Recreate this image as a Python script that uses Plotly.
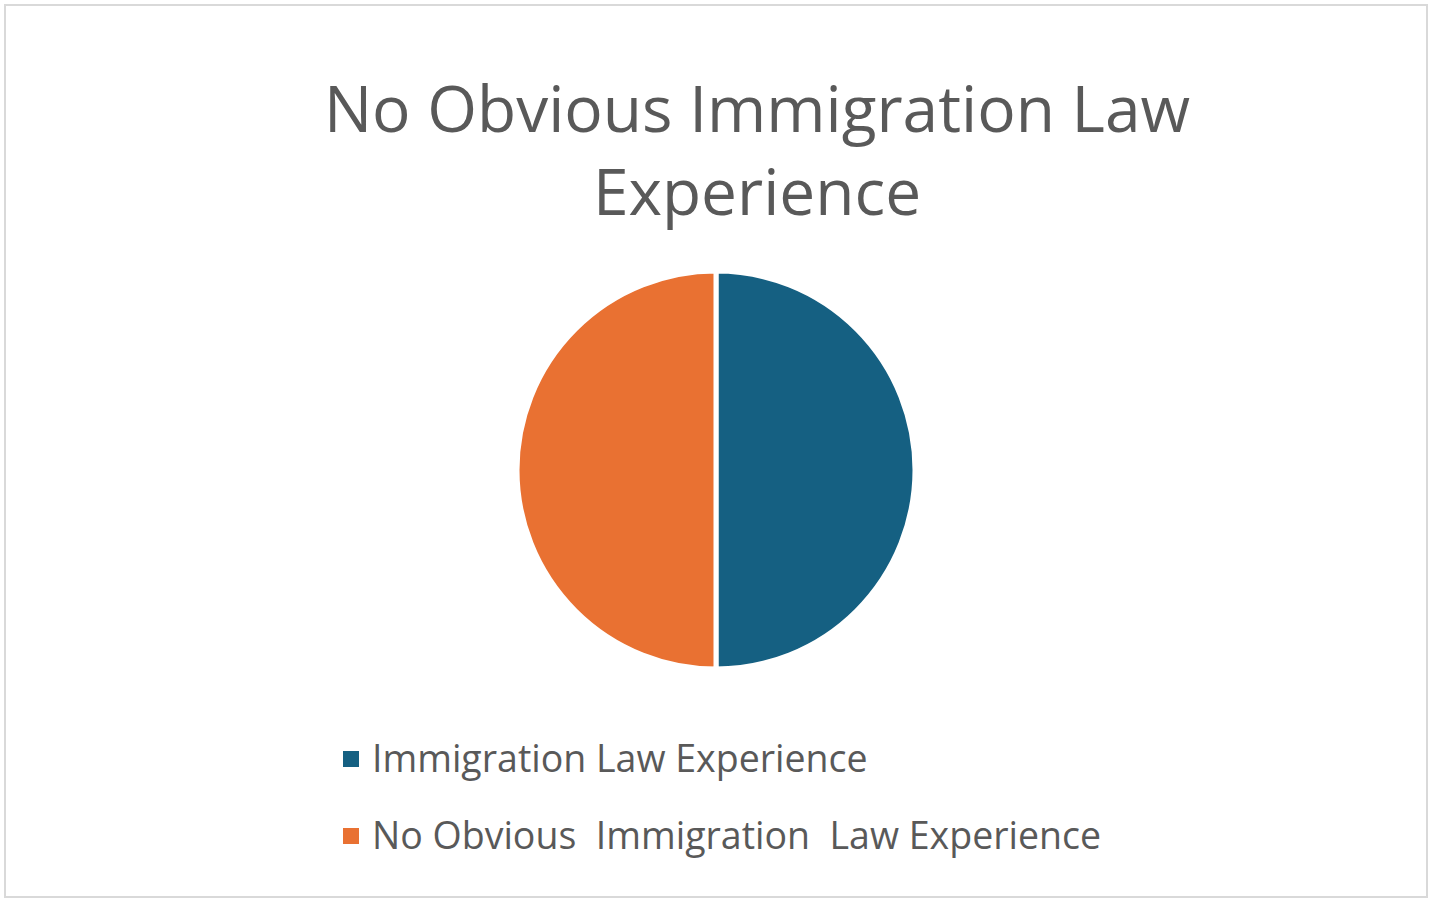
import plotly.graph_objects as go

categories = ["Immigration Law Experience", "No Obvious  Immigration  Law Experience"]
values = [50, 50]
colors = ["#156082", "#E97132"]
title_text = "No Obvious Immigration Law<br>Experience"

W, H = 1430, 902
FONT = "Open Sans"
TEXT = "#595959"

fig = go.Figure(go.Pie(
    labels=categories,
    values=values,
    sort=False,
    direction="clockwise",
    rotation=0,
    marker=dict(colors=colors, line=dict(color="white", width=5)),
    textinfo="none",
    hoverinfo="label+percent",
    showlegend=False,
    domain=dict(x=[517 / W, 915 / W], y=[1 - 669 / H, 1 - 271 / H]),
))

# legend drawn as layout text + colour keys, built from the data lists
leg_x_box = 343
leg_box = 16
leg_text_x = 370
leg_y0 = 759
leg_dy = 77
annotations = []
shapes = [dict(
    type="rect", xref="paper", yref="paper",
    x0=5 / W, x1=1427 / W, y0=1 - 897 / H, y1=1 - 5 / H,
    line=dict(color="#d9d9d9", width=2),
    fillcolor="rgba(0,0,0,0)",
    layer="below",
)]
for i, (cat, col) in enumerate(zip(categories, colors)):
    yc = leg_y0 + i * leg_dy
    shapes.append(dict(
        type="rect", xref="paper", yref="paper",
        x0=leg_x_box / W, x1=(leg_x_box + leg_box) / W,
        y0=1 - (yc + leg_box / 2) / H, y1=1 - (yc - leg_box / 2) / H,
        line=dict(width=0), fillcolor=col,
    ))
    annotations.append(dict(
        text=cat, xref="paper", yref="paper",
        x=leg_text_x / W, xanchor="left",
        y=1 - (yc - 2) / H, yanchor="middle",
        showarrow=False,
        font=dict(family=FONT, size=37.5, color=TEXT),
    ))

fig.update_layout(
    width=W, height=H,
    margin=dict(l=0, r=0, t=0, b=0),
    paper_bgcolor="white",
    plot_bgcolor="white",
    font=dict(family=FONT, color=TEXT),
    title=dict(
        text=title_text,
        x=757 / W, xanchor="center",
        y=1 - 132 / H, yanchor="top",
        font=dict(family=FONT, size=64, color=TEXT),
    ),
    shapes=shapes,
    annotations=annotations,
)

fig.write_html("out.html", config={"displayModeBar": False},
               post_script="document.body.style.margin='0';")
